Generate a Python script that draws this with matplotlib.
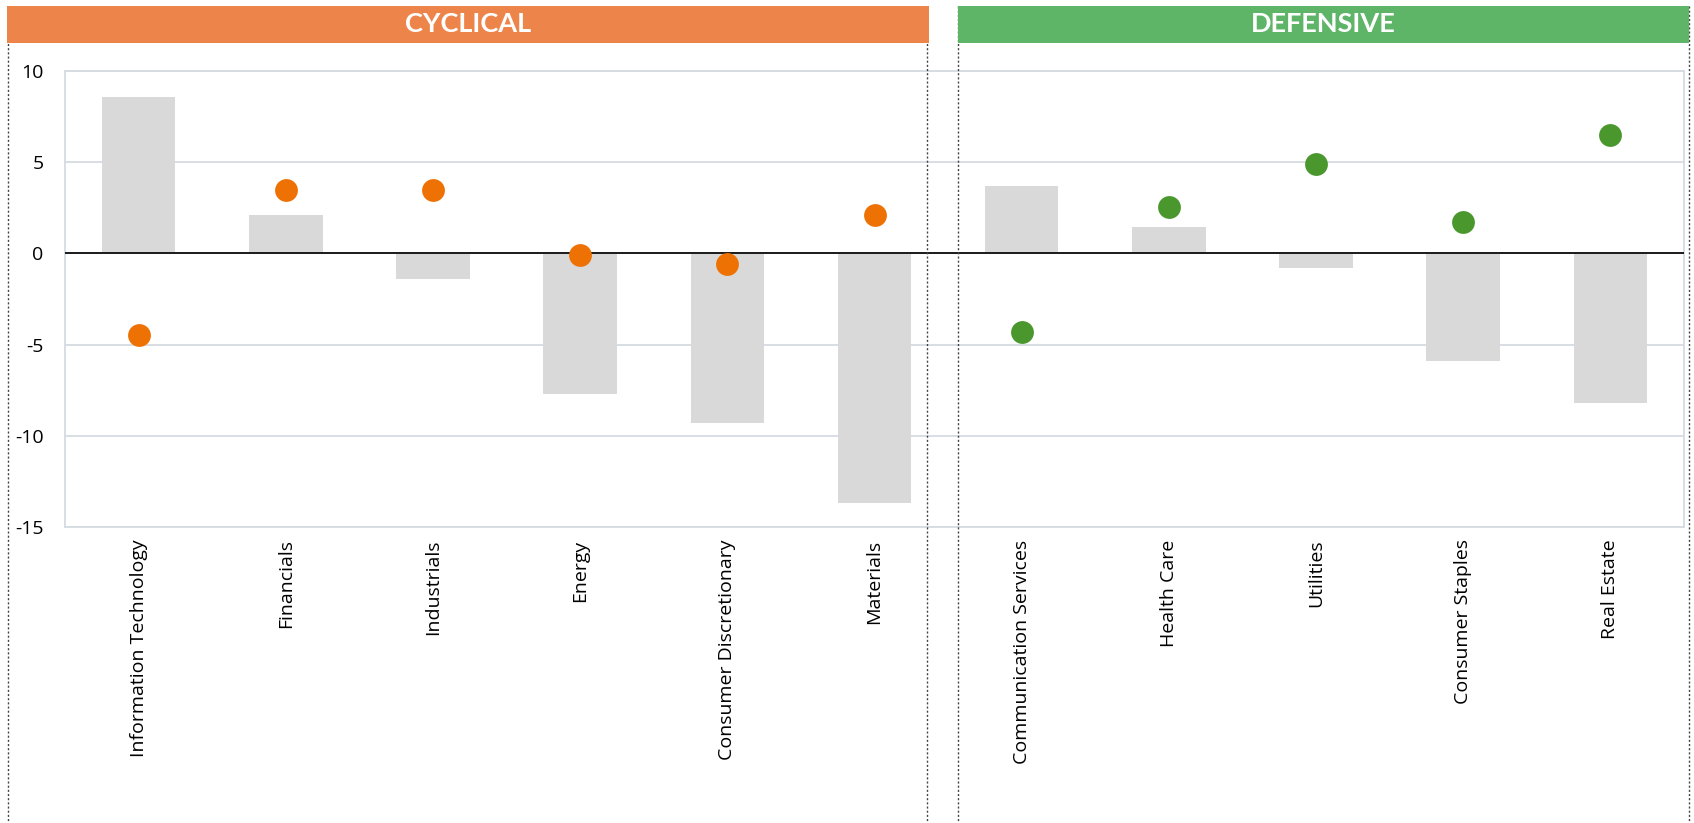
import matplotlib
matplotlib.use("Agg")
import matplotlib.pyplot as plt
from matplotlib.patches import Rectangle
from matplotlib.lines import Line2D

plt.rcParams['font.family'] = ['Open Sans', 'DejaVu Sans']

# Sector data: grey bars and coloured dots
cyclical = ["Information Technology", "Financials", "Industrials", "Energy",
            "Consumer Discretionary", "Materials"]
defensive = ["Communication Services", "Health Care", "Utilities",
             "Consumer Staples", "Real Estate"]
bar_cyclical = [8.6, 2.1, -1.4, -7.7, -9.3, -13.7]
bar_defensive = [3.7, 1.45, -0.8, -5.9, -8.2]
dot_cyclical = [-4.5, 3.5, 3.5, -0.1, -0.6, 2.1]
dot_defensive = [-4.3, 2.55, 4.9, 1.7, 6.5]
y_ticks = [10, 5, 0, -5, -10, -15]
group_titles = ["CYCLICAL", "DEFENSIVE"]

ORANGE_HDR = "#ED854B"
GREEN_HDR = "#5EB467"
ORANGE_DOT = "#EE7203"
GREEN_DOT = "#4A972E"
BAR_GREY = "#D9D9D9"
GRID = "#D5DBE3"

W, H = 1694, 823
fig = plt.figure(figsize=(W / 100, H / 100), dpi=100)
fig.patch.set_facecolor("white")

def fx(px):
    return px / W

def fy(py):
    return 1 - py / H

ax_left, ax_right, ax_top, ax_bottom = 65, 1684, 71, 527
ax = fig.add_axes([fx(ax_left), fy(ax_bottom), fx(ax_right - ax_left),
                   (ax_bottom - ax_top) / H])

categories = cyclical + defensive
bars = bar_cyclical + bar_defensive
x = list(range(len(categories)))
ax.bar(x, bars, width=0.5, color=BAR_GREY, zorder=2)

n_c = len(cyclical)
ax.scatter(x[:n_c], dot_cyclical, s=270, color=ORANGE_DOT, zorder=4, linewidths=0)
ax.scatter(x[n_c:], dot_defensive, s=270, color=GREEN_DOT, zorder=4, linewidths=0)

ax.axhline(0, color="#1a1a1a", lw=1.4, zorder=3)
ax.set_xlim(-0.5, len(categories) - 0.5)
ax.set_ylim(min(y_ticks), max(y_ticks))
ax.set_yticks(y_ticks)
ax.set_yticklabels([str(t) for t in y_ticks], fontsize=14)
ax.yaxis.grid(True, color=GRID, lw=1.3, zorder=0)
ax.set_axisbelow(True)
ax.set_xticks(x)
ax.set_xticklabels(categories, rotation=90, fontsize=14, va="top")
ax.tick_params(axis="both", length=0)
ax.tick_params(axis="y", pad=15.5)
ax.tick_params(axis="x", pad=9)
for sp in ax.spines.values():
    sp.set_color(GRID)
    sp.set_linewidth(1.3)

# Group header bars
hdr_top, hdr_bot = 6, 43
groups = [(7, 929, ORANGE_HDR), (958, 1689, GREEN_HDR)]
for (x0, x1, col), title in zip(groups, group_titles):
    fig.add_artist(Rectangle((fx(x0), fy(hdr_bot)), fx(x1 - x0),
                             (hdr_bot - hdr_top) / H, transform=fig.transFigure,
                             facecolor=col, edgecolor="none", zorder=5))
    fig.text(fx((x0 + x1) / 2), fy((hdr_top + hdr_bot) / 2), title,
             color="white", fontsize=19.5, fontweight="bold",
             family=["Lato", "DejaVu Sans"],
             ha="center", va="center", zorder=6)

# Dotted group borders
for xp in (8, 927, 958, 1689):
    fig.add_artist(Line2D([fx(xp), fx(xp)], [fy(hdr_top), 0],
                          transform=fig.transFigure, color="#444444",
                          lw=1.0, linestyle=(0, (1.5, 1.5)), zorder=4))

fig.savefig("out.png", dpi=100, facecolor="white")
